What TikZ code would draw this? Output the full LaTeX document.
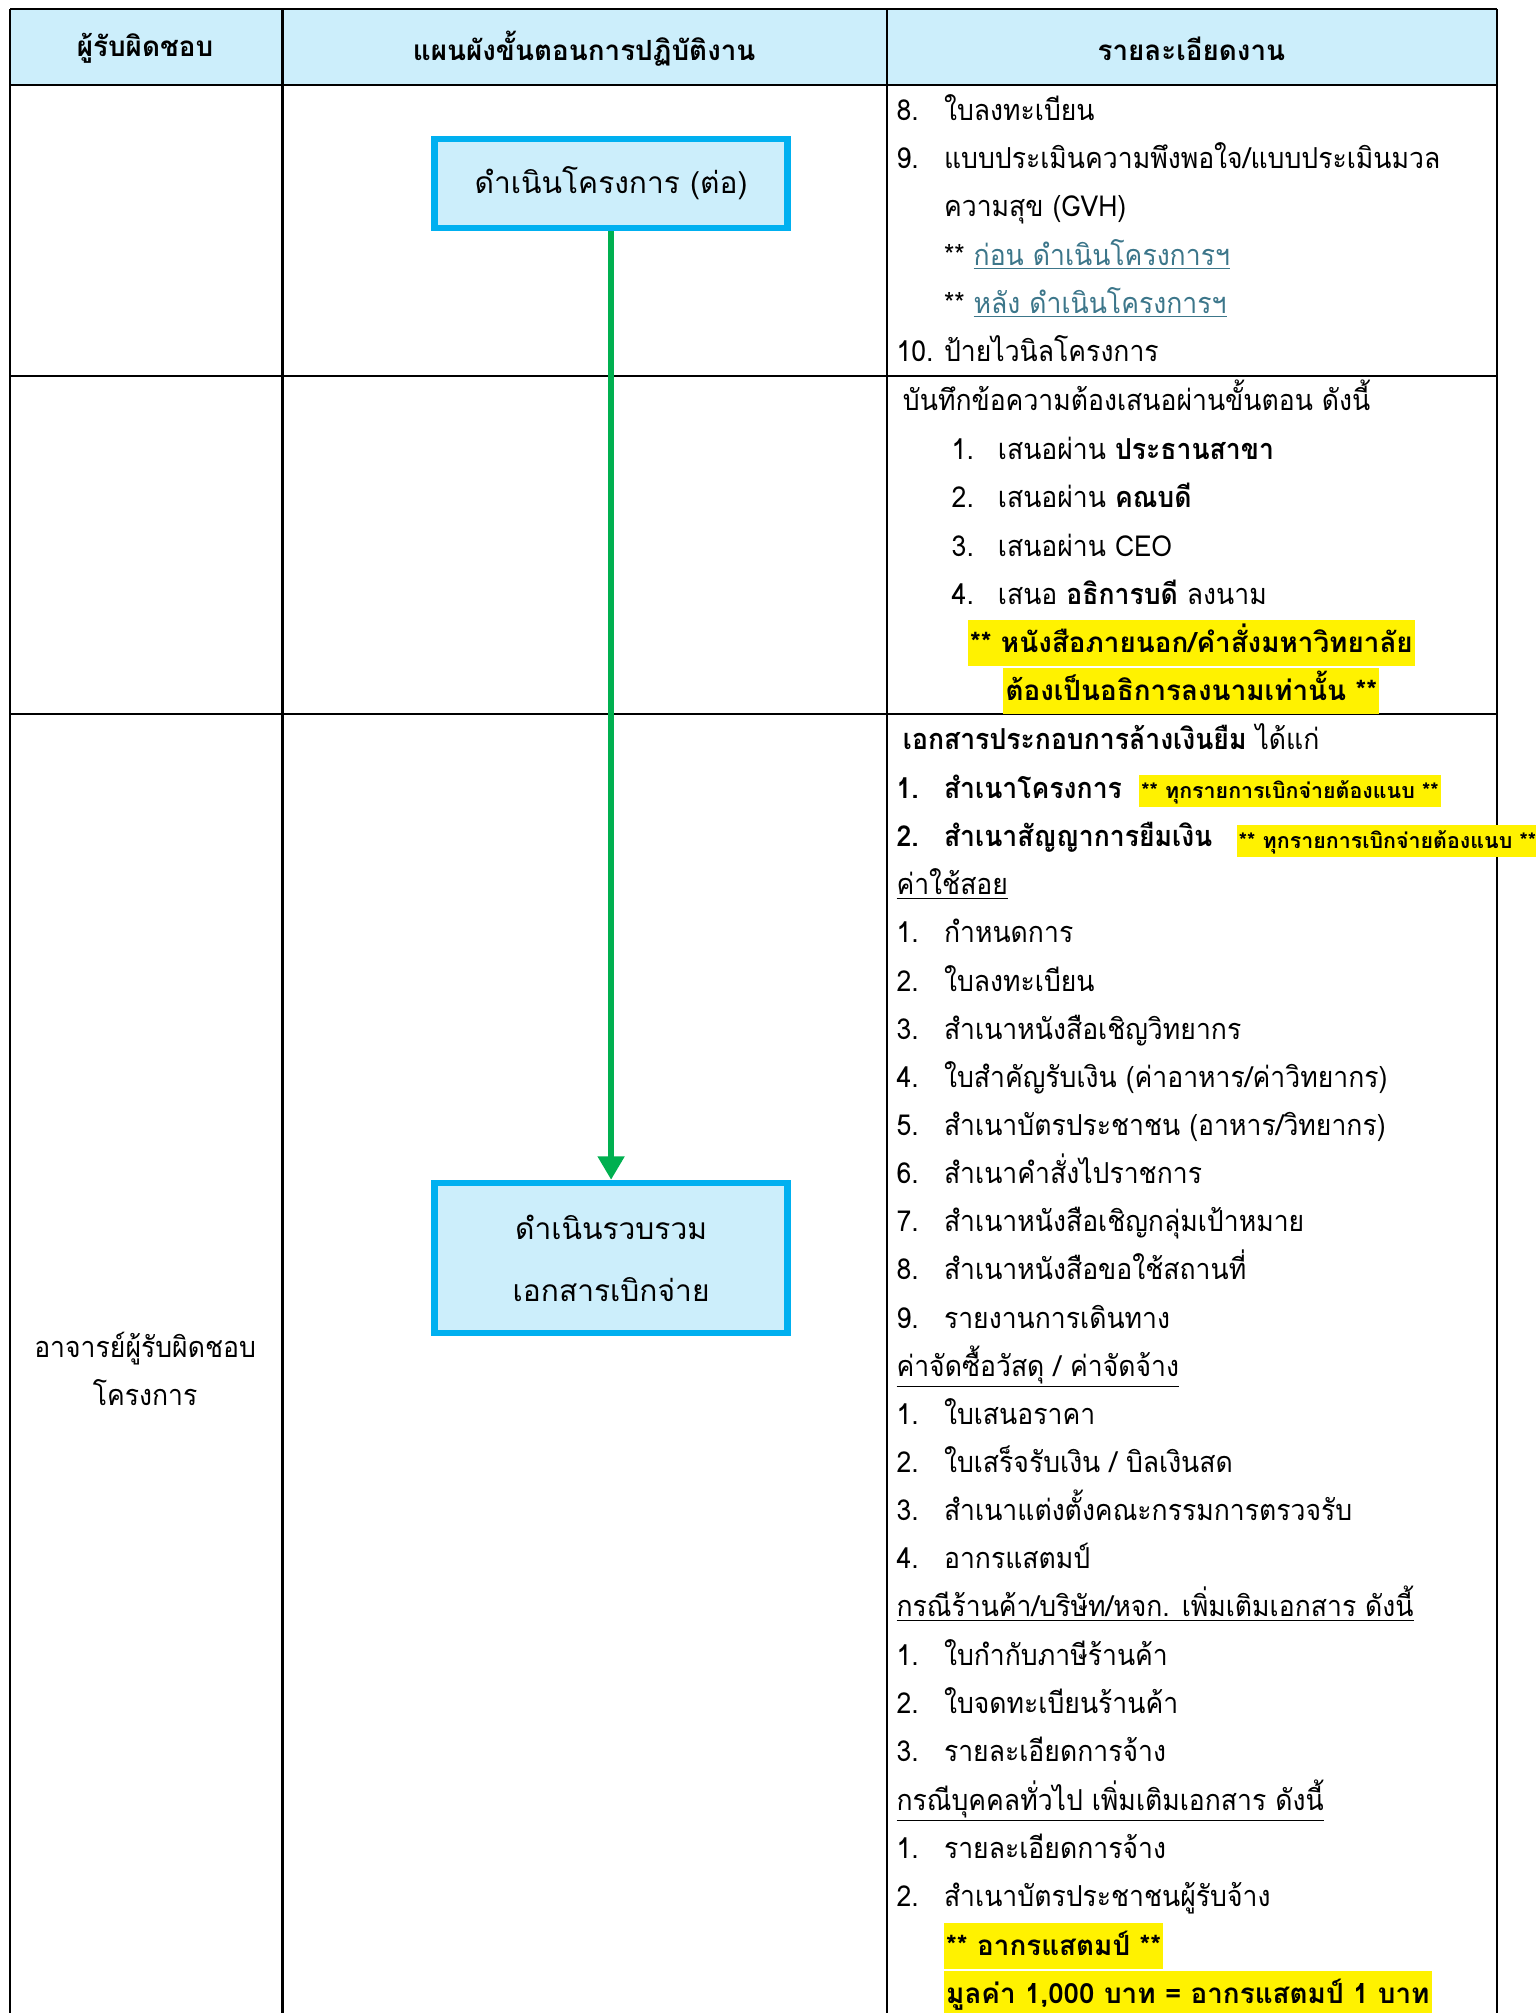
\documentclass[tikz,border=0pt]{standalone}
\usepackage{fontspec}
\setmainfont[Script=Thai]{Loma}
\newfontfamily\bodyfont[Script=Thai, FakeStretch=0.92]{Loma}
\usetikzlibrary{arrows.meta}
\definecolor{headfill}{RGB}{204,238,251}
\definecolor{boxline}{RGB}{0,176,240}
\definecolor{flowgreen}{RGB}{0,176,80}
\definecolor{linkteal}{RGB}{60,118,138}

\begin{document}
\begin{tikzpicture}[x = 0.6pt, y = -0.6pt,
    rule/.style = {draw, line width = 1pt},
    head/.style = {font = \bfseries\fontsize{13}{15}\selectfont},
    stepbox/.style = {draw = boxline, fill = headfill, line width = 3pt, minimum width = 165pt, align = center, font = \fontsize{14}{28.8}\selectfont},
    item/.style = {anchor = base west, inner sep = 0pt, font = \bodyfont\fontsize{13.5}{16}\selectfont},
    hilite/.style = {fill = yellow, inner xsep = 1pt, inner ysep = 0pt, text height = 15pt, text depth = 6.5pt, font = \bfseries\fontsize{13}{16}\selectfont},
    note/.style = {hilite, anchor = base west, text height = 11pt, text depth = 4pt, font = \bfseries\fontsize{10}{12}\selectfont},
    flow/.style = {draw = flowgreen, line width = 3pt, -{Triangle[length = 11pt, width = 12pt]}}]

  \useasboundingbox (0,0) rectangle (1196,1568);
  \fill[headfill] (8,7) rectangle (1166,66);
  \path[rule] (8,7) -- (1166,7) (8,66) -- (1166,66) (8,293) -- (1166,293) (8,556) -- (1166,556)
              (8,7) -- (8,1570) (220,7) -- (220,1570) (691,7) -- (691,1570) (1166,7) -- (1166,1570);

  \node[head] (h-who) at (113,38) {ผู้รับผิดชอบ};
  \node[head] (h-flow) at (455,38) {แผนผังขั้นตอนการปฏิบัติงาน};
  \node[head] (h-task) at (928,38) {รายละเอียดงาน};

  \node[stepbox, minimum height = 41.4pt] (run) at (476,143) {ดำเนินโครงการ (ต่อ)};
  \node[stepbox, minimum height = 70.2pt] (collect) at (476,980) {ดำเนินรวบรวม\\เอกสารเบิกจ่าย};
  \draw[flow] (run) -- (collect);

  \node[align = center, font = \bodyfont\fontsize{13.5}{22.5}\selectfont] (owner) at (113,1066) {อาจารย์ผู้รับผิดชอบ\\โครงการ};

  \node[item] (r1-n8) at (698,94) {8.};
  \node[item] (r1-t8) at (735,94) {ใบลงทะเบียน};
  \node[item] (r1-n9) at (698,131.5) {9.};
  \node[item] (r1-t9) at (735,131.5) {แบบประเมินความพึงพอใจ/แบบประเมินมวล};
  \node[item] (r1-t9b) at (735,169) {ความสุข (GVH)};
  \node[item] (r1-pre) at (735,206.5) {** \textcolor{linkteal}{\underline{ก่อน ดำเนินโครงการฯ}}};
  \node[item] (r1-post) at (735,244) {** \textcolor{linkteal}{\underline{หลัง ดำเนินโครงการฯ}}};
  \node[item] (r1-n10) at (698,281.5) {10.};
  \node[item] (r1-t10) at (735,281.5) {ป้ายไวนิลโครงการ};

  \node[item] (r2-intro) at (703,320) {บันทึกข้อความต้องเสนอผ่านขั้นตอน ดังนี้};
  \foreach \t [count = \i] in {เสนอผ่าน \textbf{ประธานสาขา}, เสนอผ่าน \textbf{คณบดี}, เสนอผ่าน CEO, เสนอ \textbf{อธิการบดี} ลงนาม} {
    \node[item] (r2-n\i) at (741, {320 + 37.7*\i}) {\i.};
    \node[item] (r2-t\i) at (777, {320 + 37.7*\i}) {\t};
  }
  \node[hilite, anchor = base] (r2-warn) at (928,508) {** หนังสือภายนอก/คำสั่งมหาวิทยาลัย};
  \node[hilite, anchor = base] (r2-warnb) at (928,545.5) {ต้องเป็นอธิการลงนามเท่านั้น **};

  \node[item] (r3-intro) at (703,584) {\textbf{เอกสารประกอบการล้างเงินยืม} ได้แก่};
  \node[item] (r3-n1) at (698,622) {\textbf{1.}};
  \node[item] (r3-t1) at (735,622) {\textbf{สำเนาโครงการ}};
  \node[note] (r3-note1) at (887,622) {** ทุกรายการเบิกจ่ายต้องแนบ **};
  \node[item] (r3-n2) at (698,659.5) {\textbf{2.}};
  \node[item] (r3-t2) at (735,659.5) {\textbf{สำเนาสัญญาการยืมเงิน}};
  \node[note] (r3-note2) at (963,661) {** ทุกรายการเบิกจ่ายต้องแนบ **};

  \node[item] (use) at (698,697) {\underline{ค่าใช้สอย}};
  \foreach \t [count = \i] in {กำหนดการ, ใบลงทะเบียน, สำเนาหนังสือเชิญวิทยากร, {ใบสำคัญรับเงิน (ค่าอาหาร/ค่าวิทยากร)}, {สำเนาบัตรประชาชน (อาหาร/วิทยากร)}, สำเนาคำสั่งไปราชการ, สำเนาหนังสือเชิญกลุ่มเป้าหมาย, สำเนาหนังสือขอใช้สถานที่, รายงานการเดินทาง} {
    \node[item] (use-n\i) at (698, {697 + 37.5*\i}) {\i.};
    \node[item] (use-t\i) at (735, {697 + 37.5*\i}) {\t};
  }

  \node[item] (buy) at (698,1072) {\underline{ค่าจัดซื้อวัสดุ / ค่าจัดจ้าง}};
  \foreach \t [count = \i] in {ใบเสนอราคา, ใบเสร็จรับเงิน / บิลเงินสด, สำเนาแต่งตั้งคณะกรรมการตรวจรับ, อากรแสตมป์} {
    \node[item] (buy-n\i) at (698, {1072 + 37.5*\i}) {\i.};
    \node[item] (buy-t\i) at (735, {1072 + 37.5*\i}) {\t};
  }

  \node[item] (shop) at (698,1259.5) {\underline{กรณีร้านค้า/บริษัท/หจก. เพิ่มเติมเอกสาร ดังนี้}};
  \foreach \t [count = \i] in {ใบกำกับภาษีร้านค้า, ใบจดทะเบียนร้านค้า, รายละเอียดการจ้าง} {
    \node[item] (shop-n\i) at (698, {1259.5 + 37.5*\i}) {\i.};
    \node[item] (shop-t\i) at (735, {1259.5 + 37.5*\i}) {\t};
  }

  \node[item] (person) at (698,1410) {\underline{กรณีบุคคลทั่วไป เพิ่มเติมเอกสาร ดังนี้}};
  \foreach \t [count = \i] in {รายละเอียดการจ้าง, สำเนาบัตรประชาชนผู้รับจ้าง} {
    \node[item] (person-n\i) at (698, {1410 + 37.5*\i}) {\i.};
    \node[item] (person-t\i) at (735, {1410 + 37.5*\i}) {\t};
  }
  \node[hilite, anchor = base west] (stamp) at (735,1523) {** อากรแสตมป์ **};
  \node[hilite, anchor = base west] (stampb) at (735,1560.5) {มูลค่า 1,000 บาท = อากรแสตมป์ 1 บาท};
\end{tikzpicture}
\end{document}
